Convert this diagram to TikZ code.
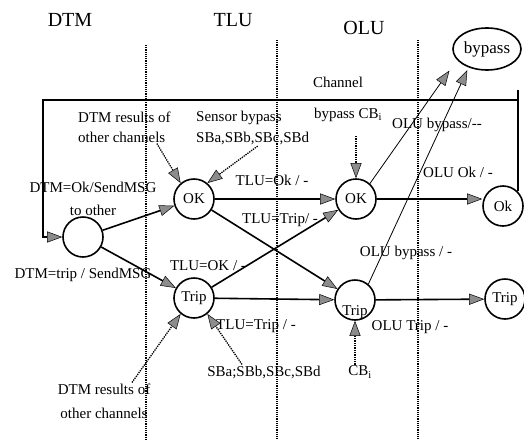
\documentclass[tikz,border=0pt]{standalone}
\usepackage{fontspec}
\setmainfont{Liberation Serif}
\usetikzlibrary{arrows.meta,shapes.geometric,calc}
\begin{document}
\begin{tikzpicture}[x=1pt,y=-1pt,
  every node/.style={font=\fontsize{15}{20}\selectfont, inner sep=1pt},
  state/.style={circle, draw, line width=1.6pt, minimum size=40pt, inner sep=0pt},
  hdr/.style={font=\fontsize{20}{24}\selectfont},
  gtip/.style={-{Triangle[length=15pt,width=11pt,fill=black!45,line width=0.5pt]}},
  trans/.style={line width=1.6pt, gtip},
  thinarr/.style={line width=0.8pt, gtip},
  dotarrow/.style={densely dotted, line width=1.3pt, gtip},
  divider/.style={densely dotted, line width=1.2pt},
  fb/.style={line width=1.6pt},
]
\useasboundingbox (0,0) rectangle (524,442);

% headers
\node[hdr] (hDTM) at (70,20) {DTM};
\node[hdr] (hTLU) at (233,20) {TLU};
\node[hdr] (hOLU) at (364,28) {OLU};

% dividers
\coordinate (d1t) at (146,45);  \coordinate (d1b) at (146,440);
\coordinate (d2t) at (277,40);  \coordinate (d2b) at (277,440);
\coordinate (d3t) at (418,40);  \coordinate (d3b) at (418,440);
\draw[divider] (d1t) -- (d1b);
\draw[divider] (d2t) -- (d2b);
\draw[divider] (d3t) -- (d3b);

% states
\node[state] (s0) at (83,237) {};
\node[state] (tok) at (194,199) {OK};
\node[state] (ttrip) at (194,298) {Trip};
\node[state] (ook) at (356,199) {OK};
\node[state] (otrip) at (355,300) {};
\node (otriplbl) at (355,312) {Trip};
\node[state] (fok) at (503,206) {Ok};
\node[state] (ftrip) at (505,299) {Trip};
\node[ellipse, draw, line width=1.6pt, minimum width=68pt, minimum height=42pt,
      inner sep=0pt, font=\fontsize{17}{20}\selectfont] (byp) at (487,49) {bypass};

% text labels
\node[anchor=west, align=left] (dtmtop) at (77,127) {DTM results of\\other channels};
\node[anchor=west, align=left] (sbtop) at (195,128) {Sensor bypass\\[1pt]SBa,SBb,SBc,SBd};
\node (chan) at (338,82) {Channel};
\node (cbtop) at (348,115) {bypass CB\textsubscript{i}};
\node (lolubyp1) at (437,125) {OLU bypass/-{}-};
\node[align=center] (ldtmok) at (93,199) {DTM=Ok/SendMSG\\[3pt]to other};
\node (ldtmtrip) at (83,275) {DTM=trip / SendMSG};
\node (ltluok) at (272,180) {TLU=Ok / -};
\node (ltlutrip) at (280,220) {TLU=Trip/ -};
\node (ltluOK) at (208,266) {TLU=OK / -};
\node (ltlutripb) at (256,326) {TLU=Trip / -};
\node (loluok) at (458,172) {OLU Ok / -};
\node (lolubyp2) at (406,253) {OLU bypass / -};
\node (lolutrip) at (410,327) {OLU Trip / -};
\node (sbbot) at (264,372) {SBa;SBb,SBc,SBd};
\node (cbbot) at (360,372) {CB\textsubscript{i}};
\node[align=center] (dtmbot) at (104,401) {DTM results of\\[4pt]other channels};

% transitions
\draw[trans] (s0) -- (tok);
\draw[trans] (s0) -- (ttrip);
\draw[trans] (tok) -- (ook);
\draw[trans] (tok) -- (otrip);
\draw[trans] (ttrip) -- (ook);
\draw[trans] (ttrip) -- (otrip);
\draw[trans] (ook.east) -- (ook.east -| fok.west);
\draw[trans] (otrip) -- (ftrip);

% bypass
\draw[thinarr, shorten >=13pt] (ook.48) -- (byp.200);
\draw[thinarr, shorten >=3pt] (otrip.50) -- (byp.225);

% feedback loop
\coordinate (fbT) at (518,90);
\coordinate (fbL) at (43,100);
\draw[fb] (fok.45) -- (fok.45 |- fbT);
\draw[fb, gtip] (fok.45 |- fbL) -- (fbL) |- (s0.west);

% dotted inputs
\draw[dotarrow] ([xshift=-15pt]dtmtop.south east) -- (tok.130);
\draw[dotarrow] ([xshift=5pt]sbtop.south) -- (tok.50);
\draw[dotarrow] ($(ook.north |- cbtop.south)+(0,13)$) -- (ook.north);
\draw[dotarrow] ([xshift=28pt]dtmbot.north) -- (ttrip.230);
\draw[dotarrow] ([xshift=-22pt]sbbot.north) -- (ttrip.310);
\draw[dotarrow] (otrip.south |- cbbot.north) -- (otrip.south);
\end{tikzpicture}
\end{document}
